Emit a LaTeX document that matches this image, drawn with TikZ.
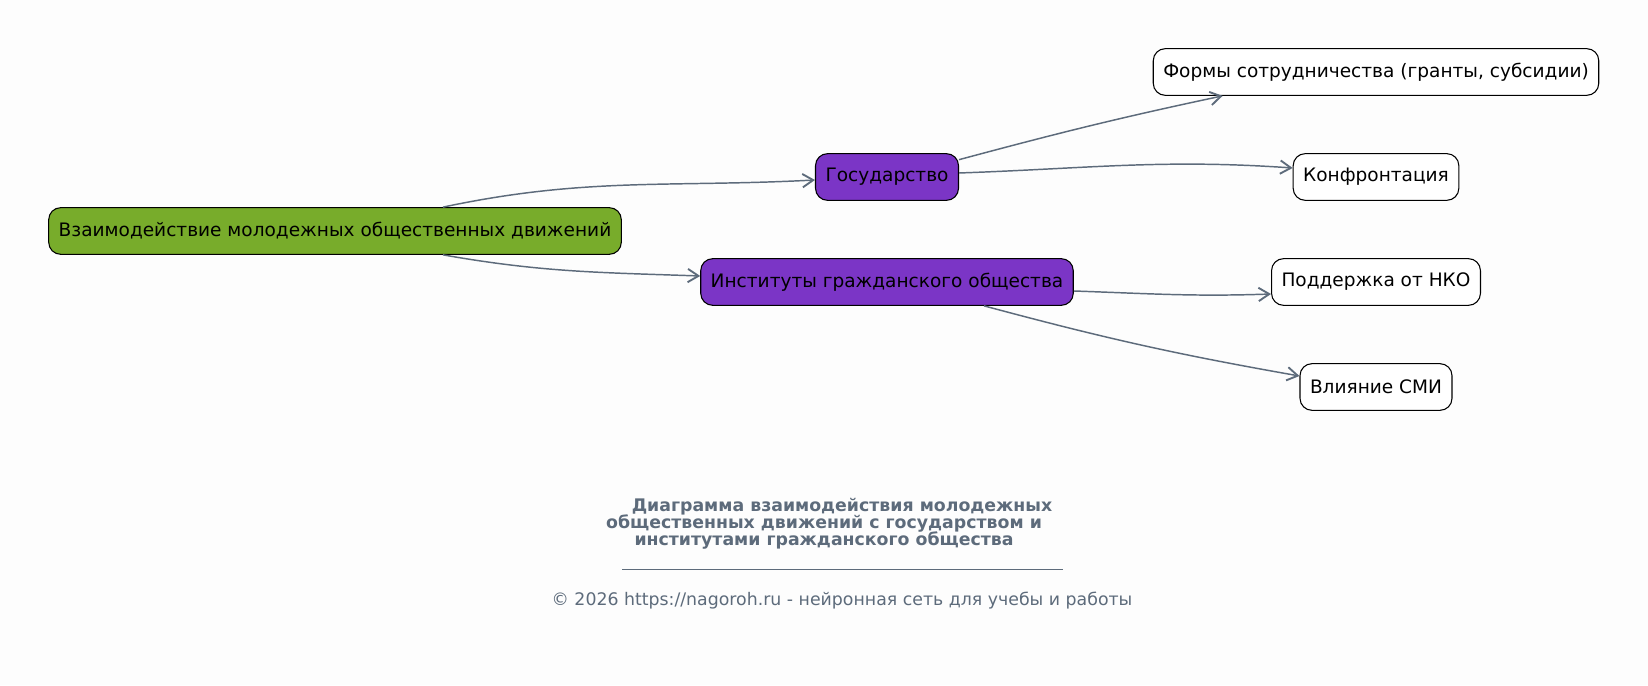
\documentclass[tikz,border=0pt]{standalone}
\usepackage{fontspec}
\setmainfont{DejaVu Sans}
\usetikzlibrary{arrows.meta}
\definecolor{rootgreen}{HTML}{78AC2B}
\definecolor{midpurple}{HTML}{7B35C6}
\definecolor{edgegray}{HTML}{5D6B7B}
\definecolor{pagebg}{HTML}{FDFDFD}
\tikzset{
  box/.style={draw=black, rounded corners=9pt, minimum height=35pt, inner xsep=7.5pt, font=\fontsize{13.9}{16}\selectfont, line width=0.8pt},
  rootbox/.style={box, fill=rootgreen},
  midbox/.style={box, fill=midpurple},
  leafbox/.style={box, fill=white},
  edge/.style={draw=edgegray, line width=1.1pt, -{Straight Barb[length=8pt, width=10pt, line width=1.4pt]}},
  titletext/.style={text=edgegray, font=\fontsize{13}{15}\bfseries\selectfont},
  foottext/.style={text=edgegray, font=\fontsize{13}{15}\selectfont}
}
\begin{document}
\begin{tikzpicture}[x=0.75pt, y=0.75pt]
    \fill[pagebg] (0,0) rectangle (1648,685);
    \useasboundingbox (0,0) rectangle (1648,685);
    \node[rootbox] (root) at (335,454) {Взаимодействие молодежных общественных движений};
    \node[midbox] (gos) at (887,508) {Государство};
    \node[midbox] (inst) at (887,403) {Институты гражданского общества};
    \node[leafbox] (form) at (1376,613) {Формы сотрудничества (гранты, субсидии)};
    \node[leafbox] (konf) at (1376,508) {Конфронтация};
    \node[leafbox] (podd) at (1376,403) {Поддержка от НКО};
    \node[leafbox] (smi) at (1376,298) {Влияние СМИ};
    \path[edge] ([xshift=81pt]root.north) to[out=12, in=183] ([yshift=-2.25pt]gos.west);
    \path[edge] ([xshift=81pt]root.south) to[out=-10, in=178] ([yshift=4.5pt]inst.west);
    \path[edge] ([yshift=13pt]gos.east) to[out=15, in=192] ([xshift=-115pt]form.south);
    \path[edge] ([yshift=3pt]gos.east) to[out=2, in=176] ([yshift=6.75pt]konf.west);
    \path[edge] ([yshift=-6.75pt]inst.east) to[out=-2, in=182] ([yshift=-9pt]podd.west);
    \path[edge] ([xshift=72.75pt]inst.south) to[out=-15, in=170] ([yshift=8.25pt]smi.west);
    % caption
    \node[titletext] (title1) at (842,178) {Диаграмма взаимодействия молодежных};
    \node[titletext] (title2) at (824,161) {общественных движений с государством и};
    \node[titletext] (title3) at (824,144) {институтами гражданского общества};
    \coordinate (ruleA) at (622,116);
    \coordinate (ruleB) at (1063,116);
    \draw[edgegray, line width=0.6pt] (ruleA) -- (ruleB);
    \node[foottext] (copy) at (842,84) {© 2026 https://nagoroh.ru - нейронная сеть для учебы и работы};
\end{tikzpicture}
\end{document}
